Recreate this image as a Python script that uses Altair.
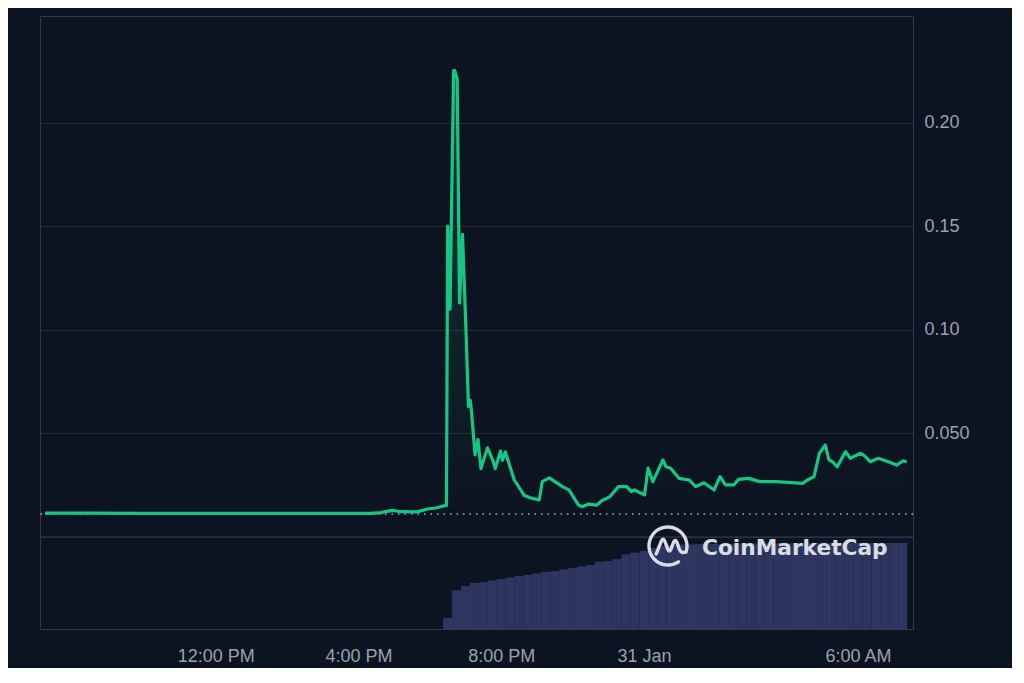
import altair as alt
import pandas as pd

# ---------------- data ----------------
PRICE_TIME = [
    "2025-01-30T07:13", "2025-01-30T08:30", "2025-01-30T10:00", "2025-01-30T11:30",
    "2025-01-30T13:00", "2025-01-30T14:30", "2025-01-30T15:30", "2025-01-30T16:20",
    "2025-01-30T16:38", "2025-01-30T16:50", "2025-01-30T16:59", "2025-01-30T17:11",
    "2025-01-30T17:39", "2025-01-30T17:56", "2025-01-30T18:10", "2025-01-30T18:23",
    "2025-01-30T18:28", "2025-01-30T18:30", "2025-01-30T18:34", "2025-01-30T18:40",
    "2025-01-30T18:42", "2025-01-30T18:46", "2025-01-30T18:50", "2025-01-30T18:55",
    "2025-01-30T19:01", "2025-01-30T19:05", "2025-01-30T19:08", "2025-01-30T19:10",
    "2025-01-30T19:16", "2025-01-30T19:21", "2025-01-30T19:26", "2025-01-30T19:37",
    "2025-01-30T19:46", "2025-01-30T19:50", "2025-01-30T19:59", "2025-01-30T20:02",
    "2025-01-30T20:07", "2025-01-30T20:22", "2025-01-30T20:39", "2025-01-30T20:50",
    "2025-01-30T21:04", "2025-01-30T21:09", "2025-01-30T21:21", "2025-01-30T21:43",
    "2025-01-30T21:54", "2025-01-30T22:10", "2025-01-30T22:16", "2025-01-30T22:27",
    "2025-01-30T22:41", "2025-01-30T22:49", "2025-01-30T23:03", "2025-01-30T23:17",
    "2025-01-30T23:31", "2025-01-30T23:39", "2025-01-30T23:44", "2025-01-31T00:01",
    "2025-01-31T00:07", "2025-01-31T00:15", "2025-01-31T00:32", "2025-01-31T00:37",
    "2025-01-31T00:45", "2025-01-31T00:59", "2025-01-31T01:16", "2025-01-31T01:27",
    "2025-01-31T01:41", "2025-01-31T01:58", "2025-01-31T02:08", "2025-01-31T02:17",
    "2025-01-31T02:31", "2025-01-31T02:39", "2025-01-31T02:56", "2025-01-31T03:15",
    "2025-01-31T03:43", "2025-01-31T04:27", "2025-01-31T04:35", "2025-01-31T04:46",
    "2025-01-31T04:55", "2025-01-31T05:05", "2025-01-31T05:11", "2025-01-31T05:17",
    "2025-01-31T05:25", "2025-01-31T05:39", "2025-01-31T05:47", "2025-01-31T06:04",
    "2025-01-31T06:09", "2025-01-31T06:21", "2025-01-31T06:34", "2025-01-31T06:51",
    "2025-01-31T07:05", "2025-01-31T07:16", "2025-01-31T07:22",
]
PRICE = [
    0.0115, 0.0115, 0.0114, 0.0114,
    0.0114, 0.0114, 0.0114, 0.0114,
    0.0118, 0.0125, 0.0128, 0.0122,
    0.0121, 0.0135, 0.0140, 0.0150,
    0.0152, 0.150, 0.110, 0.225,
    0.225, 0.221, 0.113, 0.146,
    0.098, 0.063, 0.066, 0.061,
    0.0396, 0.047, 0.033, 0.043,
    0.037, 0.033, 0.0415, 0.037,
    0.041, 0.0275, 0.020, 0.0188,
    0.0179, 0.0267, 0.0285, 0.0243,
    0.0227, 0.0154, 0.0146, 0.0159,
    0.0154, 0.0175, 0.0195, 0.0243,
    0.0243, 0.0219, 0.0227, 0.0203,
    0.0332, 0.0267, 0.0372, 0.0339,
    0.0332, 0.0283, 0.0275, 0.0243,
    0.0262, 0.0227, 0.0291, 0.0251,
    0.0251, 0.0278, 0.0283, 0.0267,
    0.0267, 0.0259, 0.0275, 0.0291,
    0.0404, 0.0444, 0.0372, 0.0363,
    0.0339, 0.0412, 0.0380, 0.0404,
    0.0396, 0.0363, 0.0380, 0.0363,
    0.0347, 0.0368, 0.0363,
]
OPEN_PRICE = 0.0111  # dotted reference line

VOL_TIME = [
    "2025-01-30T18:30", "2025-01-30T18:45",
    "2025-01-30T19:00", "2025-01-30T19:15", "2025-01-30T19:30", "2025-01-30T19:45",
    "2025-01-30T20:00", "2025-01-30T20:15", "2025-01-30T20:30", "2025-01-30T20:45",
    "2025-01-30T21:00", "2025-01-30T21:15", "2025-01-30T21:30", "2025-01-30T21:45",
    "2025-01-30T22:00", "2025-01-30T22:15", "2025-01-30T22:30", "2025-01-30T22:45",
    "2025-01-30T23:00", "2025-01-30T23:15", "2025-01-30T23:30", "2025-01-30T23:45",
    "2025-01-31T00:00", "2025-01-31T00:15", "2025-01-31T00:30", "2025-01-31T00:45",
    "2025-01-31T01:00", "2025-01-31T01:15", "2025-01-31T01:30", "2025-01-31T01:45",
    "2025-01-31T02:00", "2025-01-31T02:15", "2025-01-31T02:30", "2025-01-31T02:45",
    "2025-01-31T03:00", "2025-01-31T03:15", "2025-01-31T03:30", "2025-01-31T03:45",
    "2025-01-31T04:00", "2025-01-31T04:15", "2025-01-31T04:30", "2025-01-31T04:45",
    "2025-01-31T05:00", "2025-01-31T05:15", "2025-01-31T05:30", "2025-01-31T05:45",
    "2025-01-31T06:00", "2025-01-31T06:15", "2025-01-31T06:30", "2025-01-31T06:45",
    "2025-01-31T07:00", "2025-01-31T07:15",
]
VOLUME = [
    12, 42,
    46.7, 50, 51, 52.7,
    54.3, 56, 57.6, 58.7,
    60.3, 62, 63, 64.7,
    66.3, 68, 69.6, 73,
    74, 76, 81, 83,
    85, 88, 90.2, 91.3,
    91.8, 92.0, 92.2, 92.4,
    92.4, 92.5, 92.6, 92.7,
    92.8, 92.8, 92.9, 93.0,
    93.0, 93.1, 93.1, 93.2,
    93.3, 93.3, 93.4, 93.4,
    93.5, 93.5, 93.5, 93.6,
    93.6, 93.6,
]
Y_TICKS = [0.0, 0.05, 0.10, 0.15, 0.20]
X_TICKS = [(30, 12), (30, 16), (30, 20), (31, 0), (31, 6)]
WATERMARK = ["CoinMarketCap"]

# ---------------- layout / style ----------------
PLOT_W, PLOT_H = 873, 613
VOL_H = 92
PRICE_DOMAIN = [-0.0444, 0.2514]
VOL_TOP = 100
BG = "#0d1421"
GRID = "#262b38"
BORDER = "#333947"
LABEL = "#9aa1b0"
GREEN = "#16c784"
FONT = "Liberation Sans"

price_df = pd.DataFrame({"time": pd.to_datetime(PRICE_TIME), "price": PRICE})
vol_df = pd.DataFrame({"time": pd.to_datetime(VOL_TIME), "volume": VOLUME})

x_scale = alt.Scale(domain=[
    alt.DateTime(year=2025, month=1, date=30, hours=7, minutes=13),
    alt.DateTime(year=2025, month=1, date=31, hours=7, minutes=24),
])
x_axis = alt.Axis(
    values=[alt.DateTime(year=2025, month=1, date=d, hours=h) for d, h in X_TICKS],
    labelExpr="hours(datum.value) == 0 ? timeFormat(datum.value, '%-d %b') : timeFormat(datum.value, '%-I:%M %p')",
    grid=False, ticks=False, domain=False, title=None,
    labelFontSize=18, labelColor=LABEL, labelFont=FONT, labelPadding=18,
)
X = alt.X("time:T", scale=x_scale, axis=x_axis)
y_price_scale = alt.Scale(domain=PRICE_DOMAIN, nice=False, zero=False)

volume = alt.Chart(vol_df).mark_bar(size=9, color="#2d365f").encode(
    x=X,
    y=alt.Y("volume:Q", axis=None,
            scale=alt.Scale(domain=[0, VOL_TOP * PLOT_H / VOL_H], nice=False)),
)

y_price = alt.Y(
    "price:Q", scale=y_price_scale,
    axis=alt.Axis(
        orient="right", values=Y_TICKS, title=None,
        labelExpr="datum.value == 0 ? '' : (abs(datum.value - 0.05) < 1e-9 ? '0.050' : format(datum.value, '.2f'))",
        grid=True, gridColor=GRID, gridWidth=1, ticks=False, domain=False,
        labelFontSize=18, labelColor=LABEL, labelFont=FONT, labelPadding=11,
        labelBaseline="middle",
    ),
)

area = alt.Chart(price_df).mark_area(
    color=alt.Gradient(
        gradient="linear",
        stops=[alt.GradientStop(color="rgba(22,199,132,0.2)", offset=0),
               alt.GradientStop(color="rgba(22,199,132,0.0)", offset=1)],
        x1=1, x2=1, y1=0, y2=1,
    )
).encode(x=X, y=y_price, y2=alt.datum(OPEN_PRICE))

line = alt.Chart(price_df).mark_line(color=GREEN, strokeWidth=3.2, strokeJoin="round").encode(
    x=X, y=y_price
)

sep_df = pd.DataFrame({"price": [0.0]})
separator = alt.Chart(sep_df).mark_rule(color=BORDER, strokeWidth=1).encode(y=alt.Y("price:Q"))

open_df = pd.DataFrame({"price": [OPEN_PRICE]})
open_rule = alt.Chart(open_df).mark_rule(
    color="#c9cdd6", strokeDash=[1.5, 5], strokeWidth=1.6, opacity=0.85
).encode(y=alt.Y("price:Q"))

price_layer = alt.layer(area, separator, open_rule, line)

wm_df = pd.DataFrame({"label": WATERMARK})
logo_path = (
    "M 0.95 0.31 A 1 1 0 1 0 0.55 0.835 "
    "M -0.62 0.42 L -0.34 -0.28 Q -0.26 -0.44 -0.18 -0.28 L 0.0 0.2 "
    "Q 0.07 0.32 0.14 0.2 L 0.3 -0.22 Q 0.38 -0.36 0.46 -0.22 L 0.6 0.18 "
    "Q 0.72 0.42 0.95 0.3"
)
logo = alt.Chart(wm_df).mark_point(
    shape=logo_path, filled=False, size=1444, stroke="#e3e6ee", strokeWidth=3.4,
    opacity=0.95, strokeCap="round", strokeJoin="round",
).encode(x=alt.value(628), y=alt.value(530))
wm_text = alt.Chart(wm_df).mark_text(
    font="DejaVu Sans", fontWeight="bold", fontSize=21.7, color="#e3e6ee",
    align="left", baseline="alphabetic", opacity=0.95,
).encode(x=alt.value(662), y=alt.value(539), text="label:N")

chart = alt.layer(volume, price_layer, logo, wm_text).resolve_scale(
    y="independent"
).properties(
    width=PLOT_W, height=PLOT_H,
    autosize=alt.AutoSizeParams(type="none"),
    padding={"left": 32, "top": 8, "right": 99, "bottom": 39},
    background=BG,
).configure_view(
    stroke=BORDER, strokeWidth=1,
)

chart.save("out.html", embed_options={"renderer": "svg", "actions": False})
